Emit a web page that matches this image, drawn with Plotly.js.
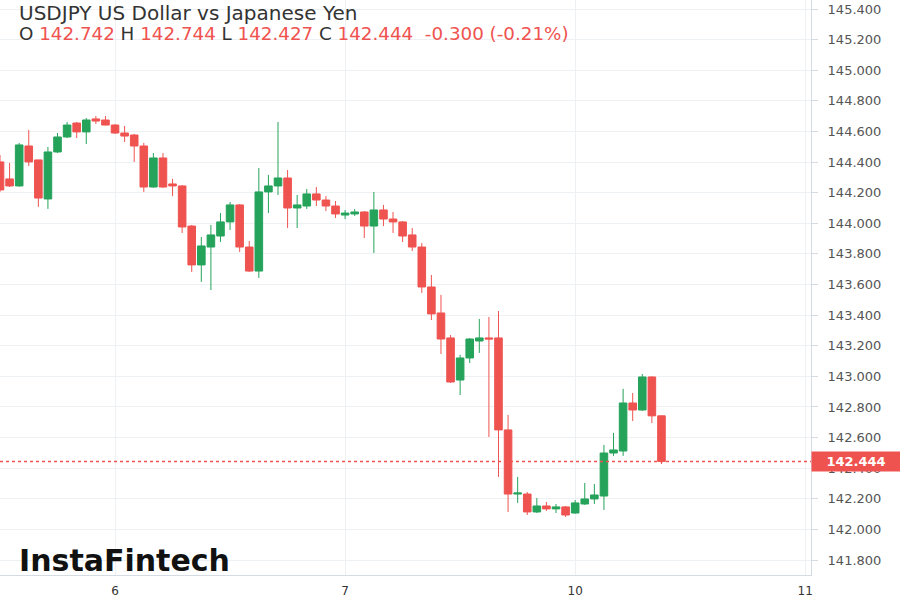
<!DOCTYPE html>
<html>
<head>
<meta charset="utf-8">
<script src="https://cdn.plot.ly/plotly-3.0.1.min.js"></script>
<style>
  html, body { margin: 0; padding: 0; background: #fff; }
  #chart { width: 900px; height: 600px; }
</style>
</head>
<body>
<div id="chart"></div>
<script>
// hourly bars, 0 = first bar of day 6
const hours = [-12, -11, -10, -9, -8, -7, -6, -5, -4, -3, -2, -1,
  0, 1, 2, 3, 4, 5, 6, 7, 8, 9, 10, 11, 12, 13, 14, 15, 16, 17, 18, 19, 20, 21, 22, 23,
  24, 25, 26, 27, 28, 29, 30, 31, 32, 33, 34, 35, 36, 37, 38, 39, 40, 41, 42, 43, 44, 45, 46, 47,
  48, 49, 50, 51, 52, 53, 54, 55, 56, 57];

const open = [144.401, 144.290, 144.244, 144.505, 144.414, 144.159, 144.466, 144.564, 144.655, 144.597, 144.682, 144.675,
  144.642, 144.590, 144.577, 144.505, 144.237, 144.427, 144.257, 144.244, 143.982, 143.728, 143.845, 143.917,
  144.009, 144.120, 143.845, 143.688, 144.205, 144.244, 144.296, 144.100, 144.113, 144.192, 144.152, 144.113,
  144.054, 144.061, 144.074, 143.982, 144.087, 144.028, 144.009, 143.924, 143.845, 143.584, 143.414, 143.251,
  142.976, 143.120, 143.231, 143.251, 143.251, 142.650, 142.231, 142.231, 142.114, 142.153, 142.134, 142.147,
  142.107, 142.166, 142.199, 142.218, 142.499, 142.512, 142.826, 142.780, 142.996, 142.742];

const high = [144.446, 144.394, 144.525, 144.610, 144.414, 144.499, 144.590, 144.662, 144.662, 144.688, 144.701, 144.701,
  144.649, 144.636, 144.584, 144.525, 144.459, 144.459, 144.290, 144.250, 143.989, 143.911, 143.989, 144.067,
  144.139, 144.126, 143.885, 144.361, 144.316, 144.662, 144.348, 144.185, 144.224, 144.237, 144.178, 144.146,
  144.087, 144.093, 144.080, 144.205, 144.120, 144.074, 144.015, 143.969, 143.871, 143.662, 143.532, 143.270,
  143.140, 143.250, 143.375, 143.388, 143.427, 142.748, 142.343, 142.244, 142.205, 142.179, 142.166, 142.153,
  142.192, 142.303, 142.297, 142.552, 142.630, 142.918, 142.891, 143.015, 143.000, 142.744];

const low = [144.205, 144.237, 144.240, 144.374, 144.107, 144.094, 144.459, 144.557, 144.557, 144.518, 144.649, 144.640,
  144.584, 144.531, 144.401, 144.205, 144.233, 144.231, 144.178, 143.937, 143.682, 143.617, 143.564, 143.878,
  143.956, 143.813, 143.682, 143.643, 144.067, 144.185, 143.969, 143.969, 144.094, 144.113, 144.080, 144.035,
  144.028, 144.048, 143.904, 143.806, 143.982, 143.937, 143.878, 143.819, 143.545, 143.368, 143.146, 142.957,
  142.878, 143.087, 143.153, 142.604, 142.343, 142.114, 142.173, 142.094, 142.107, 142.121, 142.107, 142.081,
  142.101, 142.160, 142.166, 142.127, 142.480, 142.480, 142.708, 142.774, 142.695, 142.427];

const close = [144.218, 144.244, 144.512, 144.401, 144.165, 144.466, 144.564, 144.642, 144.597, 144.675, 144.668, 144.642,
  144.590, 144.570, 144.505, 144.237, 144.427, 144.237, 144.244, 143.976, 143.728, 143.852, 143.924, 144.009,
  144.120, 143.845, 143.688, 144.205, 144.244, 144.296, 144.100, 144.120, 144.192, 144.152, 144.113, 144.061,
  144.067, 144.074, 143.982, 144.087, 144.028, 144.009, 143.917, 143.845, 143.584, 143.408, 143.244, 142.963,
  143.120, 143.244, 143.251, 143.244, 142.650, 142.231, 142.238, 142.114, 142.153, 142.134, 142.147, 142.094,
  142.173, 142.199, 142.225, 142.499, 142.519, 142.826, 142.780, 142.996, 142.742, 142.444];

const dayTicks = [0, 24, 48, 72];
const dayLabels = ['6', '7', '10', '11'];

const lastPrice = 142.444;
const upColor = '#26a35b';
const downColor = '#ef5350';
const wideFont = 'DejaVu Sans, Verdana, sans-serif';

const trace = {
  type: 'candlestick',
  x: hours,
  open: open,
  high: high,
  low: low,
  close: close,
  increasing: { line: { color: upColor, width: 1 }, fillcolor: upColor },
  decreasing: { line: { color: downColor, width: 1 }, fillcolor: downColor },
  whiskerwidth: 0,
  hoverinfo: 'none',
  showlegend: false,
};

const red = (t) => '<span style="color:' + downColor + '">' + t + '</span>';

const layout = {
  width: 900,
  height: 600,
  margin: { l: 0, r: 89, t: 0, b: 25 },
  paper_bgcolor: '#ffffff',
  plot_bgcolor: '#ffffff',
  font: { family: wideFont, color: '#333' },
  boxgap: 0.12,
  boxgroupgap: 0.1,
  xaxis: {
    range: [-12, 72.6],
    tickvals: dayTicks,
    ticktext: dayLabels,
    showgrid: true,
    gridcolor: '#eef1f4',
    zeroline: false,
    showline: true,
    linecolor: '#d5dbe3',
    ticks: '',
    ticklabelstandoff: 5,
    tickfont: { size: 12, color: '#333', family: wideFont },
    rangeslider: { visible: false },
    fixedrange: true,
  },
  yaxis: {
    side: 'right',
    range: [141.702, 145.459],
    dtick: 0.2,
    tick0: 141.8,
    tickformat: '.3f',
    showgrid: true,
    gridcolor: '#eef1f4',
    zeroline: false,
    showline: true,
    linecolor: '#d5dbe3',
    ticks: 'outside',
    ticklen: 6,
    tickcolor: '#d5dbe3',
    ticklabelstandoff: 7,
    tickfont: { size: 13, color: '#555', family: wideFont },
    fixedrange: true,
  },
  shapes: [{
    type: 'line',
    xref: 'paper', x0: 0, x1: 1,
    yref: 'y', y0: lastPrice, y1: lastPrice,
    line: { color: downColor, width: 1.5, dash: '3px,3px' },
  }],
  annotations: [
    {
      xref: 'paper', yref: 'paper', x: 0.021, y: 0.978,
      xanchor: 'left', yanchor: 'middle', showarrow: false,
      text: 'USDJPY US Dollar vs Japanese Yen',
      font: { size: 20, color: '#333', family: wideFont },
    },
    {
      xref: 'paper', yref: 'paper', x: 0.021, y: 0.941,
      xanchor: 'left', yanchor: 'middle', showarrow: false,
      text: 'O ' + red('142.742') + ' H ' + red('142.744') + ' L ' + red('142.427') +
        ' C ' + red('142.444') + '  ' + red('-0.300 (-0.21%)'),
      font: { size: 18.3, color: '#333', family: wideFont },
    },
    {
      xref: 'paper', yref: 'paper', x: 0.021, y: 0.026,
      xanchor: 'left', yanchor: 'middle', showarrow: false,
      text: '<b>InstaFintech</b>',
      font: { size: 30, color: '#111', family: wideFont },
    },
    {
      xref: 'paper', yref: 'y', x: 1, y: lastPrice,
      xanchor: 'left', yanchor: 'middle', showarrow: false,
      text: '<b>' + lastPrice.toFixed(3) + '</b>',
      bgcolor: downColor, borderpad: 2, width: 84,
      font: { size: 13, color: '#ffffff', family: wideFont },
    },
  ],
};

Plotly.newPlot('chart', [trace], layout, { displayModeBar: false, staticPlot: true });
</script>
</body>
</html>
